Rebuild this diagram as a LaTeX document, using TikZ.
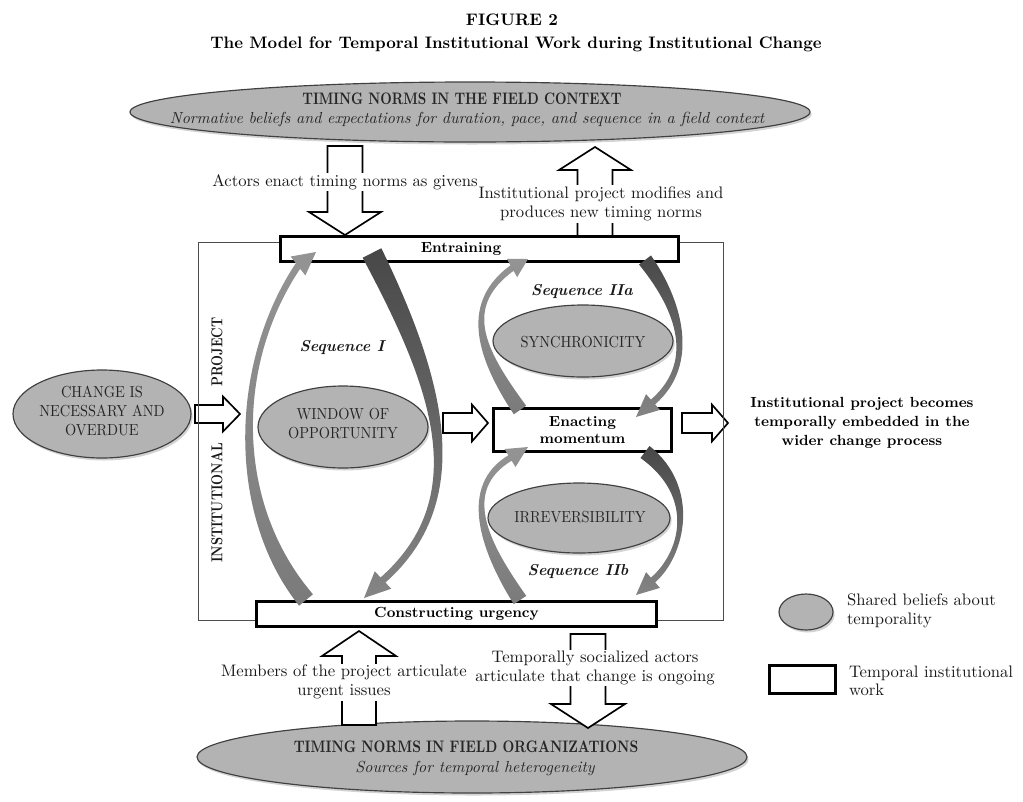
\documentclass[tikz,border=0pt]{standalone}
\usepackage{graphicx}
\usetikzlibrary{calc,shapes.geometric,shadows}
\definecolor{ellfill}{HTML}{B3B3B3}
\newcommand\sx[2][0.8]{\scalebox{#1}[1]{#2}}
% tapered curved arrow: #1 style, #2 tail, #3 ctrl1, #4 ctrl2, #5 head base, #6 tip, #7 tail half width, #8 end half width, #9 head half width
\newcommand\swoosh[9]{%
  \coordinate (swS) at #2; \coordinate (swA) at #3; \coordinate (swB) at #4;
  \coordinate (swE) at #5; \coordinate (swT) at #6;
  \coordinate (swSl) at ($(swS)!#7!90:(swA)$);
  \coordinate (swSr) at ($(swS)!#7!-90:(swA)$);
  \coordinate (swEl) at ($(swE)!#8!90:(swT)$);
  \coordinate (swEr) at ($(swE)!#8!-90:(swT)$);
  \path[#1] (swSl) .. controls ($(swA)+0.75*(swSl)-0.75*(swS)$) and ($(swB)+(swEl)-(swE)$) .. (swEl)
    -- ($(swE)!#9!90:(swT)$) -- (swT) -- ($(swE)!#9!-90:(swT)$) -- (swEr)
    .. controls ($(swB)+(swEr)-(swE)$) and ($(swA)+0.75*(swSr)-0.75*(swS)$) .. (swSr) -- cycle;
}
% block arrow: #1 start, #2 tip, #3 stem half width, #4 head half width, #5 head length
\newcommand\barrow[5]{%
  \coordinate (baA) at #1; \coordinate (baT) at #2;
  \coordinate (baH) at ($(baT)!#5!(baA)$);
  \draw[blockarrow] ($(baA)!#3!90:(baT)$) -- ($(baH)!#3!90:(baT)$) -- ($(baH)!#4!90:(baT)$)
    -- (baT) -- ($(baH)!#4!-90:(baT)$) -- ($(baH)!#3!-90:(baT)$) -- ($(baA)!#3!-90:(baT)$) -- cycle;
}
\begin{document}
\begin{tikzpicture}[x=0.6pt,y=-0.6pt,
  ttl/.style={font=\fontsize{10}{12}\selectfont\bfseries, text=black, inner sep=0pt},
  hd/.style={font=\fontsize{10}{12}\selectfont\bfseries, text=black!85, inner sep=0pt},
  itl/.style={font=\fontsize{9.6}{11}\selectfont\itshape, text=black!85, inner sep=0pt},
  capt/.style={font=\fontsize{9.6}{11.4}\selectfont, text=black!85, align=center, inner sep=0pt},
  lbl/.style={font=\fontsize{10}{11.1}\selectfont, text=black!90, align=center, inner sep=1pt},
  lblw/.style={lbl, fill=white},
  seqlbl/.style={font=\fontsize{9.5}{11}\selectfont\bfseries\itshape, text=black!90},
  bx/.style={draw=black, fill=white, line width=1.8pt, inner sep=0pt,
    font=\fontsize{8.8}{10.6}\selectfont\bfseries, align=center},
  bel/.style={ellipse, draw=black!75, fill=ellfill, line width=0.7pt, inner sep=0pt,
    drop shadow={shadow xshift=1pt, shadow yshift=-1.5pt, opacity=0.35}},
  blockarrow/.style={draw=black, fill=white, line width=1pt, line join=miter},
  frame/.style={draw=black!70, line width=0.6pt, inner sep=0pt},
  vt/.style={font=\fontsize{9.5}{11}\selectfont\bfseries, text=black!90, inner sep=0pt},
  swup/.style={top color=black!42, bottom color=black!52},
  swdn/.style={top color=black!72, bottom color=black!48}
]
\useasboundingbox (0,0) rectangle (1023,801);

% titles
\node[ttl] (fig) at (512,20) {FIGURE 2};
\node[ttl] (ttl2) at (516,44) {The Model for Temporal Institutional Work during Institutional Change};

% ellipses
\node[bel, minimum width=408pt, minimum height=36pt] (ctx) at (470,112) {};
\node[hd] (ctxh) at (462,99) {\sx{TIMING NORMS IN THE FIELD CONTEXT}};
\node[itl] (ctxi) at (467,119) {Normative beliefs and expectations for duration, pace, and sequence in a field context};

\node[bel, minimum width=330pt, minimum height=43.2pt] (org) at (472,757) {};
\node[hd] (orgh) at (466,747) {\sx[0.82]{TIMING NORMS IN FIELD ORGANIZATIONS}};
\node[itl] (orgi) at (475,768) {Sources for temporal heterogeneity};

\node[bel, minimum width=106.8pt, minimum height=52.8pt] (chg) at (102,414) {};
\node[capt] (chgt) at (102,411) {\sx[0.9]{CHANGE IS}\\\sx[0.9]{NECESSARY AND}\\\sx[0.9]{OVERDUE}};

\node[bel, minimum width=102pt, minimum height=49.2pt] (win) at (343,427) {};
\node[capt] (wint) at (343,424) {\sx[0.9]{WINDOW OF}\\\sx[0.9]{OPPORTUNITY}};

\node[bel, minimum width=108pt, minimum height=43.2pt] (syn) at (583,341) {};
\node[capt] (synt) at (583,342) {\sx[0.9]{SYNCHRONICITY}};

\node[bel, minimum width=109.2pt, minimum height=42pt] (irr) at (579,518) {};
\node[capt] (irrt) at (580,517) {\sx[0.9]{IRREVERSIBILITY}};

% block arrows
\coordinate (a1s) at (345,146); \coordinate (a1t) at (345,235);
\barrow{(a1s)}{(a1t)}{10.5pt}{21.6pt}{13.8pt}
\coordinate (a2s) at (595,240); \coordinate (a2t) at (595,147);
\barrow{(a2s)}{(a2t)}{10.5pt}{21.6pt}{13.8pt}
\coordinate (a3s) at (359,725); \coordinate (a3t) at (359,631);
\barrow{(a3s)}{(a3t)}{10.2pt}{22.2pt}{15pt}
\coordinate (a4s) at (588,634); \coordinate (a4t) at (588,728);
\barrow{(a4s)}{(a4t)}{10.5pt}{22.2pt}{14.4pt}
\coordinate (a5s) at (195,414); \coordinate (a5t) at (240,414);
\barrow{(a5s)}{(a5t)}{5.4pt}{10.5pt}{10.2pt}
\coordinate (a6s) at (443,423); \coordinate (a6t) at (488,423);
\barrow{(a6s)}{(a6t)}{6pt}{11pt}{9.6pt}
\coordinate (a7s) at (682,423); \coordinate (a7t) at (728,423);
\barrow{(a7s)}{(a7t)}{6pt}{11pt}{9.6pt}

% arrow labels
\node[lblw] (l1) at (345,182) {Actors enact timing norms as givens};
\node[lblw] (l2) at (601,204) {Institutional project modifies and\\produces new timing norms};
\node[lblw] (l3) at (344,682) {Members of the project articulate\\urgent issues};
\node[lblw] (l4) at (595,668) {Temporally socialized actors\\articulate that change is ongoing};

% institutional project frame
\node[frame, minimum width=315pt, minimum height=226.8pt] (proj) at (460.5,431) {};
\node[vt, rotate=90] (instl) at (217,503) {\sx{INSTITUTIONAL}};
\node[vt, rotate=90] (projl) at (217,352) {\sx{PROJECT}};

% work boxes
\node[bx, minimum width=238.8pt, minimum height=15pt] (entr) at (479.5,249) {};
\node[bx, draw=none, fill=none] (entrt) at (461,249) {Entraining};
\node[bx, minimum width=240pt, minimum height=15pt] (cons) at (456.5,614) {Constructing urgency};
\node[bx, minimum width=106.8pt, minimum height=25.8pt] (enact) at (582.5,430) {Enacting\\momentum};

% sequence labels
\node[seqlbl] (s1) at (342,347) {Sequence I};
\node[seqlbl] (s2a) at (582,291) {Sequence IIa};
\node[seqlbl] (s2b) at (578,571) {Sequence IIb};

% curved arrows
\swoosh{swup}{(306,600)}{(230,508)}{(233,363)}{(298,266)}{(316,252)}{5.4pt}{2.1pt}{7.2pt}
\swoosh{swdn}{(372,253)}{(434,375)}{(478,496)}{(383,580)}{(364,598)}{6.3pt}{2.1pt}{7.2pt}
\swoosh{swup}{(520,410)}{(478,350)}{(463,304)}{(512,268)}{(528,259)}{4.5pt}{1.9pt}{6.3pt}
\swoosh{swdn}{(645,260)}{(676,301)}{(700,361)}{(653,402)}{(636,417)}{4.5pt}{1.9pt}{6.3pt}
\swoosh{swup}{(520,600)}{(484,546)}{(460,488)}{(510,458)}{(528,447)}{4.5pt}{1.9pt}{6.3pt}
\swoosh{swdn}{(645,452)}{(698,492)}{(683,554)}{(653,580)}{(636,595)}{4.5pt}{1.9pt}{6.3pt}

% outcome text
\node[font=\fontsize{8.8}{11.4}\selectfont\bfseries, align=center, text=black] (out) at (862,423)
  {Institutional project becomes\\temporally embedded in the\\wider change process};

% legend
\node[bel, minimum width=32.4pt, minimum height=21.6pt] (legel) at (806,612) {};
\node[lbl, align=left, anchor=west] (legelt) at (845,611) {Shared beliefs about\\temporality};
\node[bx, minimum width=39.6pt, minimum height=16.8pt] (legbx) at (802.5,679.5) {};
\node[lbl, align=left, anchor=west] (legbxt) at (847,681) {Temporal institutional\\work};
\end{tikzpicture}
\end{document}
